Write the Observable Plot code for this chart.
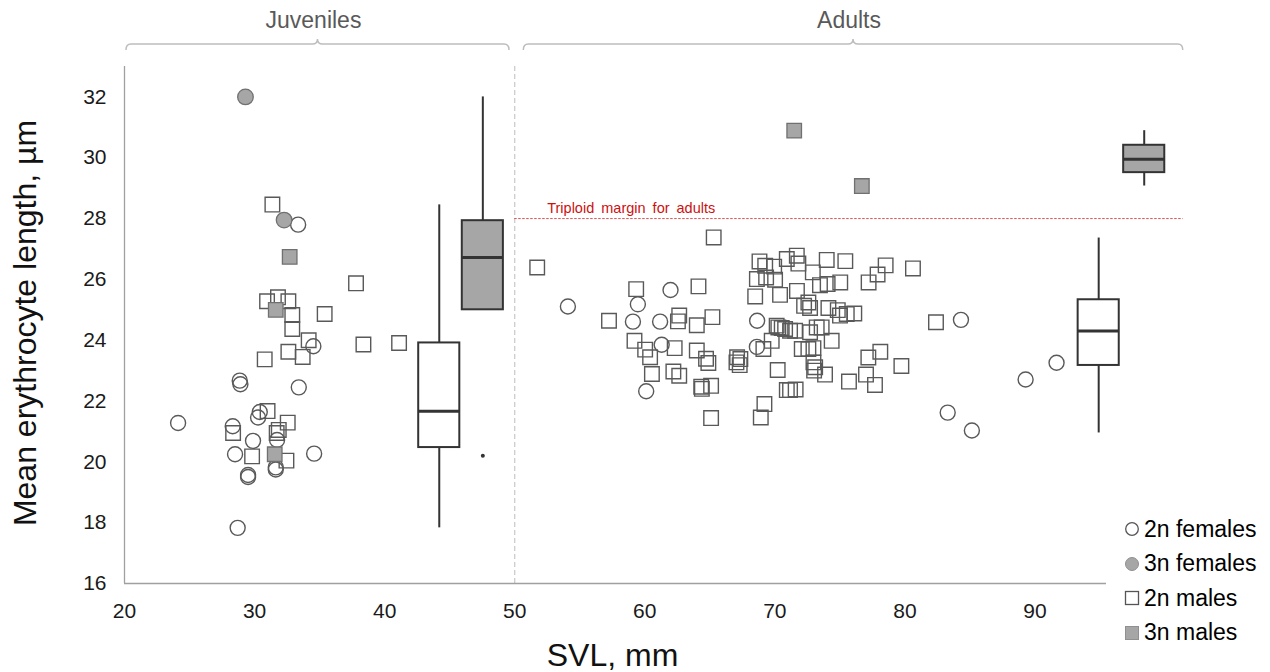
<!DOCTYPE html>
<html><head><meta charset="utf-8">
<script src="https://cdn.jsdelivr.net/npm/d3@7"></script>
<script src="https://cdn.jsdelivr.net/npm/@observablehq/plot@0.6"></script>
<style>
body{margin:0;background:#fff;font-family:"Liberation Sans",Arial,sans-serif;}
#wrap{position:relative;width:1270px;height:672px;overflow:hidden;}
#legend{position:absolute;left:1124px;top:512px;font-size:23px;color:#000;font-family:"Liberation Sans",Arial,sans-serif;}
#legend .row{height:34.5px;display:flex;align-items:center;white-space:nowrap;}
#legend svg{width:16px;height:16px;margin-right:4px;}
</style></head><body><div id="wrap"></div>
<script>
// ---- data (SVL mm, mean erythrocyte length µm) ----
const females2n = [
  [33.35,27.8],[34.52,23.8],[28.86,22.67],[28.91,22.55],[33.4,22.45],[30.4,21.64],[30.27,21.46],
  [24.12,21.28],[28.32,21.17],[31.73,20.72],[29.88,20.69],[28.5,20.25],[34.58,20.27],[31.63,19.82],
  [31.63,19.75],[29.5,19.57],[29.5,19.5],[28.7,17.83],
  [54.09,25.11],[59.47,25.18],[61.98,25.65],[59.09,24.61],[61.18,24.61],[61.3,23.85],[60.11,22.32],
  [68.64,24.64],[68.62,23.78],[84.31,24.67],[83.29,21.62],[85.15,21.03],[89.28,22.71],[91.66,23.26]
];
const females3n = [[29.3,32.0],[32.27,27.95]];
const males2n = [
  [31.37,28.46],[37.8,25.87],[30.96,25.28],[31.8,25.41],[32.6,25.28],[32.9,24.83],[32.9,24.37],
  [35.39,24.86],[34.16,24.0],[38.37,23.86],[41.11,23.91],[32.6,23.62],[33.7,23.45],[30.78,23.37],
  [31.0,21.67],[32.55,21.29],[28.35,20.95],[31.86,21.05],[31.7,20.95],[29.81,20.18],[32.45,20.04],
  [65.3,27.38],[51.73,26.39],[59.34,25.68],[64.13,25.77],[57.25,24.64],[62.65,24.81],[62.55,24.62],
  [64.0,24.49],[65.2,24.76],[59.21,23.98],[60.03,23.69],[60.41,23.44],[62.3,23.74],[64.0,23.66],
  [64.71,23.39],[64.89,23.25],[60.55,22.89],[62.2,22.97],[62.65,22.83],[64.34,22.47],[65.1,22.5],
  [64.39,22.4],[65.1,21.44],[67.1,23.44],[67.35,23.38],[67.05,23.27],[67.3,23.18],
  [69.12,23.71],[70.22,23.02],[69.2,21.9],[68.92,21.46],
  [68.82,26.59],[69.26,26.45],[69.95,26.42],[68.62,26.01],[69.33,26.06],[70.02,25.99],[70.92,26.67],
  [71.69,26.78],[71.81,26.52],[72.92,26.23],[73.99,26.64],[75.42,26.6],[73.47,25.81],[74.06,25.85],
  [75.03,25.9],[68.49,25.44],[70.4,25.49],[71.7,25.62],[72.25,25.13],[72.71,25.06],[72.58,25.24],
  [74.12,25.06],[74.84,24.99],[75.53,24.86],[75.01,24.81],[76.11,24.88],
  [70.14,24.48],[70.27,24.42],[70.53,24.4],[70.79,24.37],[71.17,24.31],[71.56,24.31],[69.76,23.98],
  [72.71,24.26],[73.22,24.42],[73.6,24.42],[74.37,23.98],[72.07,23.71],[72.58,23.71],[72.97,23.74],
  [72.97,23.27],[73.02,23.0],[73.1,23.11],[73.86,22.87],[70.92,22.36],[71.17,22.36],[71.6,22.38],
  [75.7,22.64],[78.52,26.46],[77.9,26.16],[77.21,25.9],[80.62,26.36],[82.39,24.59],[78.11,23.62],
  [77.19,23.43],[79.73,23.15],[77.01,22.87],[77.7,22.53]
];
const males3n = [[32.7,26.74],[31.63,25.0],[31.55,20.25],[71.49,30.89],[76.69,29.07]];

// box plots
const boxName   = ["Juveniles 2n","Juveniles 3n","Adults 2n","Adults 3n"];
const boxPloidy = ["2n","3n","2n","3n"];
const boxCenter = [44.2, 47.55, 94.9, 98.4];
const boxMin    = [17.83, 25.0, 20.95, 29.07];
const boxQ1     = [20.47, 25.0, 23.17, 29.51];
const boxMedian = [21.66, 26.72, 24.30, 29.95];
const boxQ3     = [23.91, 27.93, 25.33, 30.41];
const boxMax    = [28.45, 32.0, 27.36, 30.89];
const outlierBox   = [1];
const outlierValue = [20.2];

// groups and annotations
const groupNames = ["Juveniles","Adults"];
const groupStart = [20.15, 50.7];
const groupEnd   = [49.6, 101.4];
const divider = 50;
const triploidMargin = 28;
const triploidLabel = "Triploid margin for adults";
const xTicks = [20,30,40,50,60,70,80,90];
const yTicks = [16,18,20,22,24,26,28,30,32];
const xTitle = "SVL, mm";
const yTitle = "Mean erythrocyte length, µm";

const legendNames = ["2n females","3n females","2n males","3n males"];

// ---- build ----
const toPts = a => a.map(([x,y]) => ({x,y}));
const boxes = boxName.map((n,i) => ({n, p: boxPloidy[i], c: boxCenter[i], min: boxMin[i], q1: boxQ1[i], med: boxMedian[i], q3: boxQ3[i], max: boxMax[i]}));
const outliers = outlierBox.map((b,i) => ({c: boxCenter[b], v: outlierValue[i]}));
const hw = 1.58;
const GRAY = "#a6a6a6", GRAYS = "#707070", OUT = "#595959", BOX = "#333333";

function brackets(index, scales, values, dims) {
  const g = d3.create("svg:g");
  const x = scales.x;
  const yL = dims.marginTop - 22;
  groupNames.forEach((name, i) => {
    const a = x(groupStart[i]), b = x(groupEnd[i]), m = (a + b) / 2;
    const r = 5;
    g.append("path")
      .attr("d", `M${a},${yL+6} Q${a},${yL} ${a+r},${yL} L${m-5},${yL} Q${m},${yL} ${m},${yL-5} Q${m},${yL} ${m+5},${yL} L${b-r},${yL} Q${b},${yL} ${b},${yL+6}`)
      .attr("fill","none").attr("stroke","#bdbdbd").attr("stroke-width",1.5);
    g.append("text").attr("x", m - 4).attr("y", dims.marginTop - 46).attr("dy","0.35em")
      .attr("text-anchor","middle").attr("font-size",23).attr("fill","#595959").text(name);
  });
  return g.node();
}

const chart = Plot.plot({
  width: 1270, height: 672,
  marginLeft: 124, marginRight: 164, marginTop: 66, marginBottom: 89,
  x: {domain: [20, 95.5]},
  y: {domain: [16, 33]},
  style: {fontFamily: "'Liberation Sans', Arial, sans-serif", background: "white"},
  marks: [
    Plot.axisX({ticks: xTicks, tickSize: 0, tickPadding: 20, fontSize: 21, fill: "#1a1a1a", label: null}),
    Plot.axisY({ticks: yTicks, tickSize: 0, tickPadding: 18, fontSize: 21, fill: "#1a1a1a", label: null}),
    Plot.ruleX([divider], {y1: 16, y2: 33, stroke: "#cccccc", strokeWidth: 1.3, strokeDasharray: "5,3"}),
    Plot.ruleX([20], {y1: 16, y2: 33, stroke: "#a0a0a0", strokeWidth: 1.3}),
    Plot.ruleY([16], {x1: 20, x2: 95.5, stroke: "#a0a0a0", strokeWidth: 1.3}),
    Plot.ruleY([triploidMargin], {x1: divider, x2: groupEnd[1], stroke: "#e05252", strokeWidth: 1, strokeDasharray: "2.5,1.5"}),
    Plot.text([triploidLabel], {x: 52.5, y: triploidMargin, text: d => d, textAnchor: "start", dy: -10.5, fontSize: 14.5, fill: "#cc1111"}),
    // box plots
    Plot.ruleX(boxes, {x: "c", y1: "q3", y2: "max", stroke: BOX, strokeWidth: 2}),
    Plot.ruleX(boxes, {x: "c", y1: "min", y2: "q1", stroke: BOX, strokeWidth: 2}),
    Plot.rect(boxes, {x1: d => d.c - hw, x2: d => d.c + hw, y1: "q1", y2: "q3", fill: d => d.p === "3n" ? GRAY : "white", stroke: BOX, strokeWidth: 2}),
    Plot.ruleY(boxes, {y: "med", x1: d => d.c - hw, x2: d => d.c + hw, stroke: BOX, strokeWidth: 3}),
    Plot.dot(outliers, {x: "c", y: "v", r: 2, fill: BOX}),
    // points
    Plot.dot(toPts(females2n), {x: "x", y: "y", r: 7.5, symbol: "circle", fill: "none", stroke: OUT, strokeWidth: 1.4}),
    Plot.dot(toPts(males2n), {x: "x", y: "y", r: 8.2, symbol: "square", fill: "none", stroke: OUT, strokeWidth: 1.4}),
    Plot.dot(toPts(females3n), {x: "x", y: "y", r: 7.8, symbol: "circle", fill: GRAY, stroke: GRAYS, strokeWidth: 1.3}),
    Plot.dot(toPts(males3n), {x: "x", y: "y", r: 8.2, symbol: "square", fill: GRAY, stroke: GRAYS, strokeWidth: 1.3}),
    // axis titles
    Plot.text([xTitle], {text: d => d, frameAnchor: "bottom", textAnchor: "middle", lineAnchor: "middle", dx: -3, dy: 72, fontSize: 32, fill: "#111"}),
    Plot.text([yTitle], {text: d => d, frameAnchor: "left", textAnchor: "middle", lineAnchor: "middle", dx: -99, dy: -2, rotate: -90, fontSize: 32, fill: "#111"}),
    brackets
  ]
});
d3.select(chart).selectAll("text").filter(function(){ return this.textContent === triploidLabel; }).style("word-spacing", "3px");

const wrap = document.getElementById("wrap");
wrap.appendChild(chart);

const legend = document.createElement("div");
legend.id = "legend";
const sym = [
  '<circle cx="8" cy="8" r="6.3" fill="white" stroke="#555" stroke-width="1.3"/>',
  '<circle cx="8" cy="8" r="6.5" fill="#a6a6a6" stroke="#909090" stroke-width="1"/>',
  '<rect x="1.5" y="1.5" width="13" height="13" fill="white" stroke="#555" stroke-width="1.3"/>',
  '<rect x="1.5" y="1.5" width="13" height="13" fill="#a6a6a6" stroke="#909090" stroke-width="1"/>'
];
legendNames.forEach((n, i) => {
  const row = document.createElement("div");
  row.className = "row";
  row.innerHTML = `<svg viewBox="0 0 16 16">${sym[i]}</svg><span>${n}</span>`;
  legend.appendChild(row);
});
wrap.appendChild(legend);
</script></body></html>
